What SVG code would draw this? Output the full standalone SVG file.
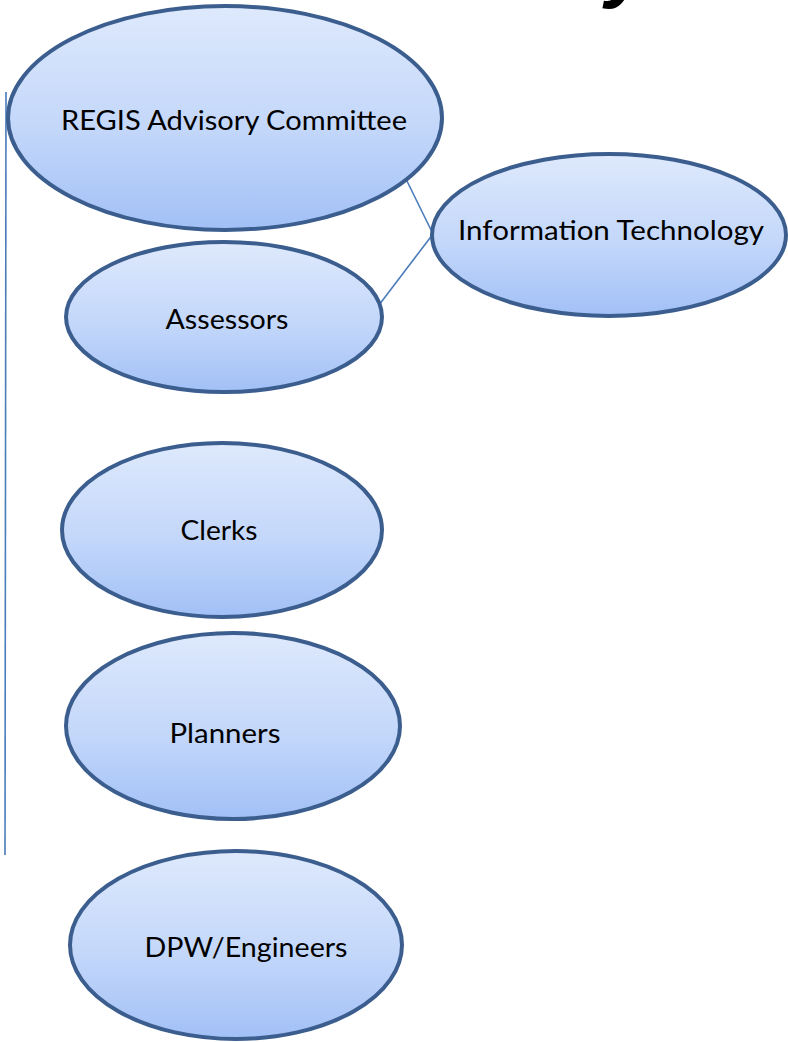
<svg xmlns="http://www.w3.org/2000/svg" width="788" height="1042" viewBox="0 0 788 1042">
<defs>
<linearGradient id="g" x1="0" y1="0" x2="0" y2="1">
<stop offset="0" stop-color="#dee9fc"/>
<stop offset="0.55" stop-color="#c3d7fa"/>
<stop offset="1" stop-color="#a2c0f6"/>
</linearGradient>
<style>
.n{fill:url(#g);stroke:#3b5e8f;stroke-width:4}
.t{font-family:Lato,"Liberation Sans",sans-serif;font-size:27px;fill:#000;text-anchor:middle}
.c{stroke:#4a7cba;stroke-width:1.6;fill:none}
</style>
</defs>
<rect width="788" height="1042" fill="#fff"/>
<text x="628" y="-8" font-family="Liberation Sans, sans-serif" font-weight="bold" font-style="italic" font-size="80" text-anchor="middle" fill="#000">y</text>
<g id="connectors">
<line class="c" x1="6" y1="92" x2="5" y2="855"/>
<line class="c" x1="405" y1="177" x2="433" y2="234"/>
<line class="c" x1="433" y1="234" x2="379" y2="305"/>
</g>
<g id="regis">
<ellipse class="n" cx="225" cy="118" rx="217" ry="112"/>
<text class="t" x="234" y="130" textLength="346" lengthAdjust="spacingAndGlyphs">REGIS Advisory Committee</text>
</g>
<g id="it">
<ellipse class="n" cx="609" cy="235" rx="177" ry="81"/>
<text class="t" x="611" y="240" textLength="306" lengthAdjust="spacingAndGlyphs">Information Technology</text>
</g>
<g id="assessors">
<ellipse class="n" cx="224" cy="317" rx="158" ry="75"/>
<text class="t" x="227" y="329" textLength="123" lengthAdjust="spacingAndGlyphs">Assessors</text>
</g>
<g id="clerks">
<ellipse class="n" cx="222" cy="530" rx="160" ry="87"/>
<text class="t" x="219" y="540" textLength="77" lengthAdjust="spacingAndGlyphs">Clerks</text>
</g>
<g id="planners">
<ellipse class="n" cx="233" cy="726" rx="167" ry="93"/>
<text class="t" x="225" y="743" textLength="111" lengthAdjust="spacingAndGlyphs">Planners</text>
</g>
<g id="dpw">
<ellipse class="n" cx="236" cy="945" rx="166" ry="94"/>
<text class="t" x="246" y="957" textLength="203" lengthAdjust="spacingAndGlyphs">DPW/Engineers</text>
</g>
</svg>
